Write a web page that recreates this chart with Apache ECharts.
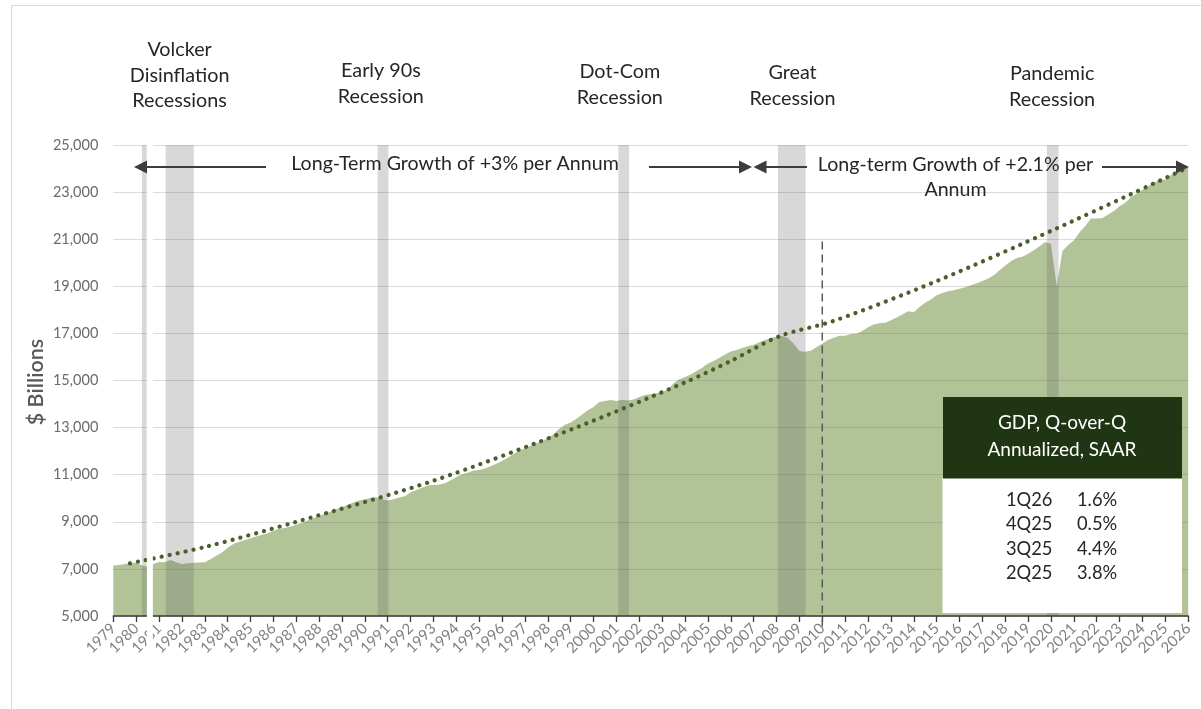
<!DOCTYPE html>
<html><head><meta charset="utf-8">
<script src="https://cdn.jsdelivr.net/npm/echarts@6/dist/echarts.min.js"></script>
<style>html,body{margin:0;padding:0;background:#fff}#c{width:1201px;height:709px}</style>
</head><body><div id="c"></div>
<script>
// ---------- DATA ----------
const startYear = 1979;           // first quarter 1979Q1, quarterly through 2026Q1
const gdpQuarterly = [
  7140, 7170, 7210, 7237,     // 1979
  7260, 7160, 7090, 7210,     // 1980
  7293, 7280, 7378, 7280,     // 1981
  7208, 7240, 7265, 7275,     // 1982
  7285, 7407, 7560, 7700,     // 1983
  7900, 8057, 8150, 8230,     // 1984
  8299, 8380, 8450, 8511,     // 1985
  8620, 8700, 8740, 8800,     // 1986
  8880, 8960, 9050, 9150,     // 1987
  9250, 9340, 9430, 9540,     // 1988
  9620, 9720, 9820, 9900,     // 1989
  9960, 10010, 10040, 9960,   // 1990
  9900, 9960, 10030, 10080,   // 1991
  10250, 10350, 10450, 10540, // 1992
  10560, 10580, 10640, 10760, // 1993
  10900, 11020, 11080, 11180, // 1994
  11200, 11260, 11360, 11470, // 1995
  11580, 11720, 11880, 12030, // 1996
  12120, 12230, 12340, 12420, // 1997
  12560, 12720, 12950, 13120, // 1998
  13220, 13380, 13560, 13740, // 1999
  13870, 14090, 14130, 14170, // 2000
  14130, 14180, 14150, 14190, // 2001
  14300, 14380, 14420, 14460, // 2002
  14520, 14620, 14880, 15050, // 2003
  15150, 15260, 15400, 15540, // 2004
  15720, 15830, 15970, 16100, // 2005
  16230, 16300, 16380, 16450, // 2006
  16520, 16620, 16720, 16800, // 2007
  16860, 16890, 16800, 16560, // 2008
  16250, 16220, 16260, 16420, // 2009
  16560, 16720, 16820, 16900, // 2010
  16900, 16970, 16980, 17100, // 2011
  17260, 17380, 17430, 17450, // 2012
  17560, 17680, 17800, 17940, // 2013
  17900, 18120, 18300, 18440, // 2014
  18620, 18720, 18790, 18830, // 2015
  18900, 18960, 19040, 19130, // 2016
  19230, 19330, 19470, 19680, // 2017
  19880, 20060, 20200, 20260, // 2018
  20380, 20530, 20700, 20880, // 2019
  20800, 19000, 20500, 20750, // 2020
  20950, 21300, 21560, 21880, // 2021
  21880, 21900, 22050, 22200, // 2022
  22400, 22550, 22780, 22950, // 2023
  23100, 23250, 23400, 23520, // 2024
  23540, 23730, 23860, 23950, // 2025
  24050                       // 2026Q1
];
// trend line, points [year, $bn]
const trendPoints = [
  [1979.73, 7237], [1983, 7930], [1987, 9000], [1993, 10745], [1999.26, 13012],
  [2004, 14920], [2006, 15830], [2008.15, 16889], [2010.5, 17530], [2015, 19220],
  [2020.25, 21460], [2026, 24050]
];
const recessionBands = [
  [1980.25, 1980.46], [1981.29, 1982.52], [1990.56, 1991.03],
  [2001.08, 2001.55], [2008.06, 2009.27], [2019.82, 2020.33]
];
const recessionLabels = [
  { text: 'Volcker\nDisinflation\nRecessions', year: 1981.9, top: 37 },
  { text: 'Early 90s\nRecession', year: 1990.7, top: 58 },
  { text: 'Dot-Com\nRecession', year: 2001.15, top: 59 },
  { text: 'Great\nRecession', year: 2008.7, top: 60 },
  { text: 'Pandemic\nRecession', year: 2020.05, top: 61 }
];
const yTickValues = [5000, 7000, 9000, 11000, 13000, 15000, 17000, 19000, 21000, 23000, 25000];
const tableTitle = ['GDP, Q-over-Q', 'Annualized, SAAR'];
const tableRows = [['1Q26', '1.6%'], ['4Q25', '0.5%'], ['3Q25', '4.4%'], ['2Q25', '3.8%']];
const growthLabels = ['Long-Term Growth of +3% per Annum', 'Long-term Growth of +2.1% per\nAnnum'];
const dividerYear = 2010;

// ---------- CHART ----------
const FONT = 'Lato, "Open Sans", sans-serif';
const chart = echarts.init(document.getElementById('c'), null, { renderer: 'canvas' });
const gdpData = gdpQuarterly.map((v, i) => [startYear + i / 4, v]);

chart.setOption({
  animation: false,
  backgroundColor: '#fff',
  textStyle: { fontFamily: FONT },
  grid: { left: 113.3, right: 12.8, top: 145, bottom: 93, containLabel: false },
  xAxis: {
    type: 'value', min: 1979, max: 2026, interval: 1, z: 6,
    axisLine: { show: true, onZero: false, lineStyle: { color: '#3a3a3a', width: 1.5 } },
    axisTick: { show: true, length: 6, lineStyle: { color: '#3a3a3a', width: 1.3 } },
    splitLine: { show: false },
    axisLabel: { rotate: 45, margin: 10, color: '#808080', fontSize: 15, fontFamily: FONT,
      formatter: v => String(Math.round(v)) }
  },
  yAxis: {
    type: 'value', min: yTickValues[0], max: yTickValues[yTickValues.length - 1], interval: 2000, z: 2,
    axisLine: { show: false }, axisTick: { show: false },
    splitLine: { show: true, lineStyle: { color: 'rgba(100,100,100,0.23)', width: 1.2 } },
    axisLabel: { margin: 15, color: '#6e6a66', fontSize: 14.5, fontFamily: FONT,
      formatter: v => v.toLocaleString('en-US') }
  },
  series: [
    {
      type: 'line', data: gdpData, z: 1, symbol: 'none', smooth: false,
      lineStyle: { width: 0 }, areaStyle: { color: '#b2c397', opacity: 1 }
    },
    {
      type: 'custom', data: recessionBands, z: 3, encode: { x: [0, 1] },
      renderItem: (params, api) => {
        const a = api.coord([api.value(0), yTickValues[yTickValues.length - 1]]);
        const b = api.coord([api.value(1), yTickValues[0]]);
        return { type: 'rect', shape: { x: a[0], y: a[1], width: b[0] - a[0], height: b[1] - a[1] },
          style: { fill: 'rgba(100,100,100,0.25)' } };
      }
    },
    {
      type: 'line', data: trendPoints, z: 4, symbol: 'none', smooth: 0.3,
      lineStyle: { color: '#4b5f2b', width: 4.2, type: [0.1, 8], cap: 'round' }
    }
  ]
});

const P = (x, y) => chart.convertToPixel({ gridIndex: 0 }, [x, y]);
const g = [];
// outer frame
g.push({ type: 'rect', shape: { x: 11.5, y: 5.5, width: 1300, height: 800 }, style: { fill: null, stroke: '#d9d9d9', lineWidth: 1 }, z: 1, silent: true });
// white gap artifact around 1981
const gapL = P(1980.47, 0)[0], gapR = P(1980.73, 0)[0];
g.push({ type: 'rect', shape: { x: gapL, y: 138, width: gapR - gapL, height: 518 }, style: { fill: '#fff' }, z: 100 });
// dashed divider
const d1 = P(dividerYear, 20900), d2 = P(dividerYear, 5000);
g.push({ type: 'line', shape: { x1: d1[0], y1: d1[1], x2: d2[0], y2: d2[1] + 15 }, style: { stroke: '#5a5a5a', lineWidth: 1.5, lineDash: [8, 5] }, z: 101 });
// recession labels
recessionLabels.forEach(r => {
  g.push({ type: 'text', x: P(r.year, 0)[0], y: r.top, z: 101,
    style: { text: r.text, font: '19.8px ' + FONT, fill: '#262626', align: 'center', verticalAlign: 'top', lineHeight: 25.5 } });
});
// arrows
const AY = 167, AC = '#3c3c3c';
const arrowHead = (tip, dir) => ({ type: 'polygon', z: 102,
  shape: { points: [[tip, AY], [tip - dir * 13, AY - 6.5], [tip - dir * 13, AY + 6.5]] }, style: { fill: AC } });
const hline = (x1, x2) => ({ type: 'line', z: 102, shape: { x1, y1: AY, x2, y2: AY }, style: { stroke: AC, lineWidth: 2 } });
g.push(arrowHead(134, -1), hline(146, 266));
g.push(hline(649, 741), arrowHead(752, 1));
g.push(arrowHead(753.5, -1), hline(766, 807));
g.push(hline(1102, 1176), arrowHead(1189, 1));
g.push({ type: 'text', x: 455, y: 164, z: 101, style: { text: growthLabels[0], font: '19.6px ' + FONT, fill: '#262626', align: 'center', verticalAlign: 'middle' } });
g.push({ type: 'text', x: 955.5, y: 152, z: 101, style: { text: growthLabels[1], font: '19.6px ' + FONT, fill: '#262626', align: 'center', verticalAlign: 'top', lineHeight: 25 } });
// y axis title
g.push({ type: 'text', x: 36, y: 382, rotation: Math.PI / 2, z: 101,
  style: { text: '$ Billions', font: '600 21.5px ' + FONT, fill: '#595959', align: 'center', verticalAlign: 'middle' } });
// table
g.push({ type: 'rect', z: 103, shape: { x: 942.5, y: 478, width: 239.5, height: 135 }, style: { fill: '#fff' } });
g.push({ type: 'rect', z: 103, shape: { x: 943, y: 397, width: 239, height: 81.5 }, style: { fill: '#1f3513' } });
tableTitle.forEach((t, i) => g.push({ type: 'text', z: 104, x: 1062, y: 423 + i * 26.5,
  style: { text: t, font: '19px ' + FONT, fill: '#ffffff', align: 'center', verticalAlign: 'middle' } }));
tableRows.forEach((r, i) => {
  g.push({ type: 'text', z: 104, x: 1006, y: 500 + i * 24.5, style: { text: r[0], font: '18.3px ' + FONT, fill: '#262626', align: 'left', verticalAlign: 'middle' } });
  g.push({ type: 'text', z: 104, x: 1077, y: 500 + i * 24.5, style: { text: r[1], font: '18.3px ' + FONT, fill: '#262626', align: 'left', verticalAlign: 'middle' } });
});
chart.setOption({ graphic: g });
</script>
</body></html>
